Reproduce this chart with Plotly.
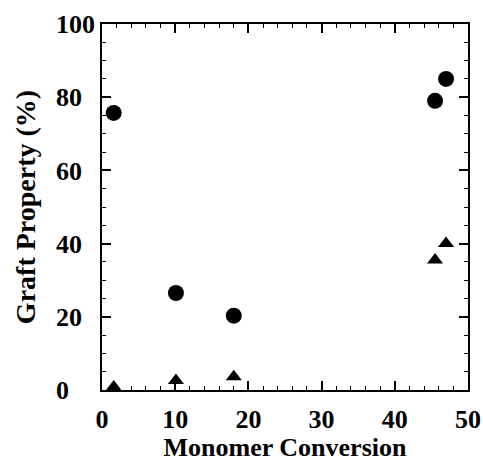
import plotly.graph_objects as go

circle_x = [1.6, 10.1, 18.0, 45.5, 47.0]
circle_y = [75.7, 26.5, 20.3, 79.0, 85.0]
tri_x = [1.6, 10.1, 18.0, 45.5, 47.0]
tri_y = [0.8, 2.6, 3.6, 35.5, 40.0]
y_ticks = [0, 20, 40, 60, 80, 100]
y_ticklabels = ["0", "20", "40", "60", "80", "100"]

def left_pad(label, width=3):
    pad = "0" * (width - len(label))
    if pad:
        return "<b>" + label + "<span style='color:white'>" + pad + "</span></b>"
    return "<b>" + label + "</b>"

fig = go.Figure()
fig.add_trace(go.Scatter(x=circle_x, y=circle_y, mode="markers",
                         marker=dict(symbol="circle", size=16, color="black"),
                         cliponaxis=False, showlegend=False))
fig.add_trace(go.Scatter(x=tri_x, y=tri_y, mode="markers",
                         marker=dict(symbol="triangle-up", size=14, color="black"),
                         cliponaxis=False, showlegend=False))

tickfont = dict(family="Liberation Serif", size=26, color="black")
xtitlefont = dict(family="Liberation Serif", size=26, color="black")
ytitlefont = dict(family="Liberation Serif", size=28, color="black")
axis_common = dict(showgrid=False, zeroline=False, showline=True, linecolor="black",
                   linewidth=1.5, mirror="allticks", ticks="inside", tickcolor="black",
                   tickwidth=1.5, ticklen=9, tickfont=tickfont)
fig.update_xaxes(range=[0, 50], dtick=10, tick0=0, ticklabelstandoff=5,
                 minor=dict(dtick=2, ticks="inside", ticklen=4, tickcolor="black", tickwidth=1.2),
                 title=dict(text="<b>Monomer Conversion</b>", font=xtitlefont, standoff=0),
                 tickprefix="<b>", ticksuffix="</b>", automargin=False, **axis_common)
fig.update_yaxes(range=[0, 100], tickmode="array", tickvals=y_ticks,
                 ticktext=[left_pad(t) for t in y_ticklabels],
                 minor=dict(dtick=5, ticks="inside", ticklen=4, tickcolor="black", tickwidth=1.2),
                 title=dict(text="<b>Graft Property (%)</b>", font=ytitlefont, standoff=12),
                 automargin=False, **axis_common)
fig.update_layout(width=483, height=462, margin=dict(l=102, r=15, t=24, b=72),
                  plot_bgcolor="white", paper_bgcolor="white")
fig.write_html("out.html")
